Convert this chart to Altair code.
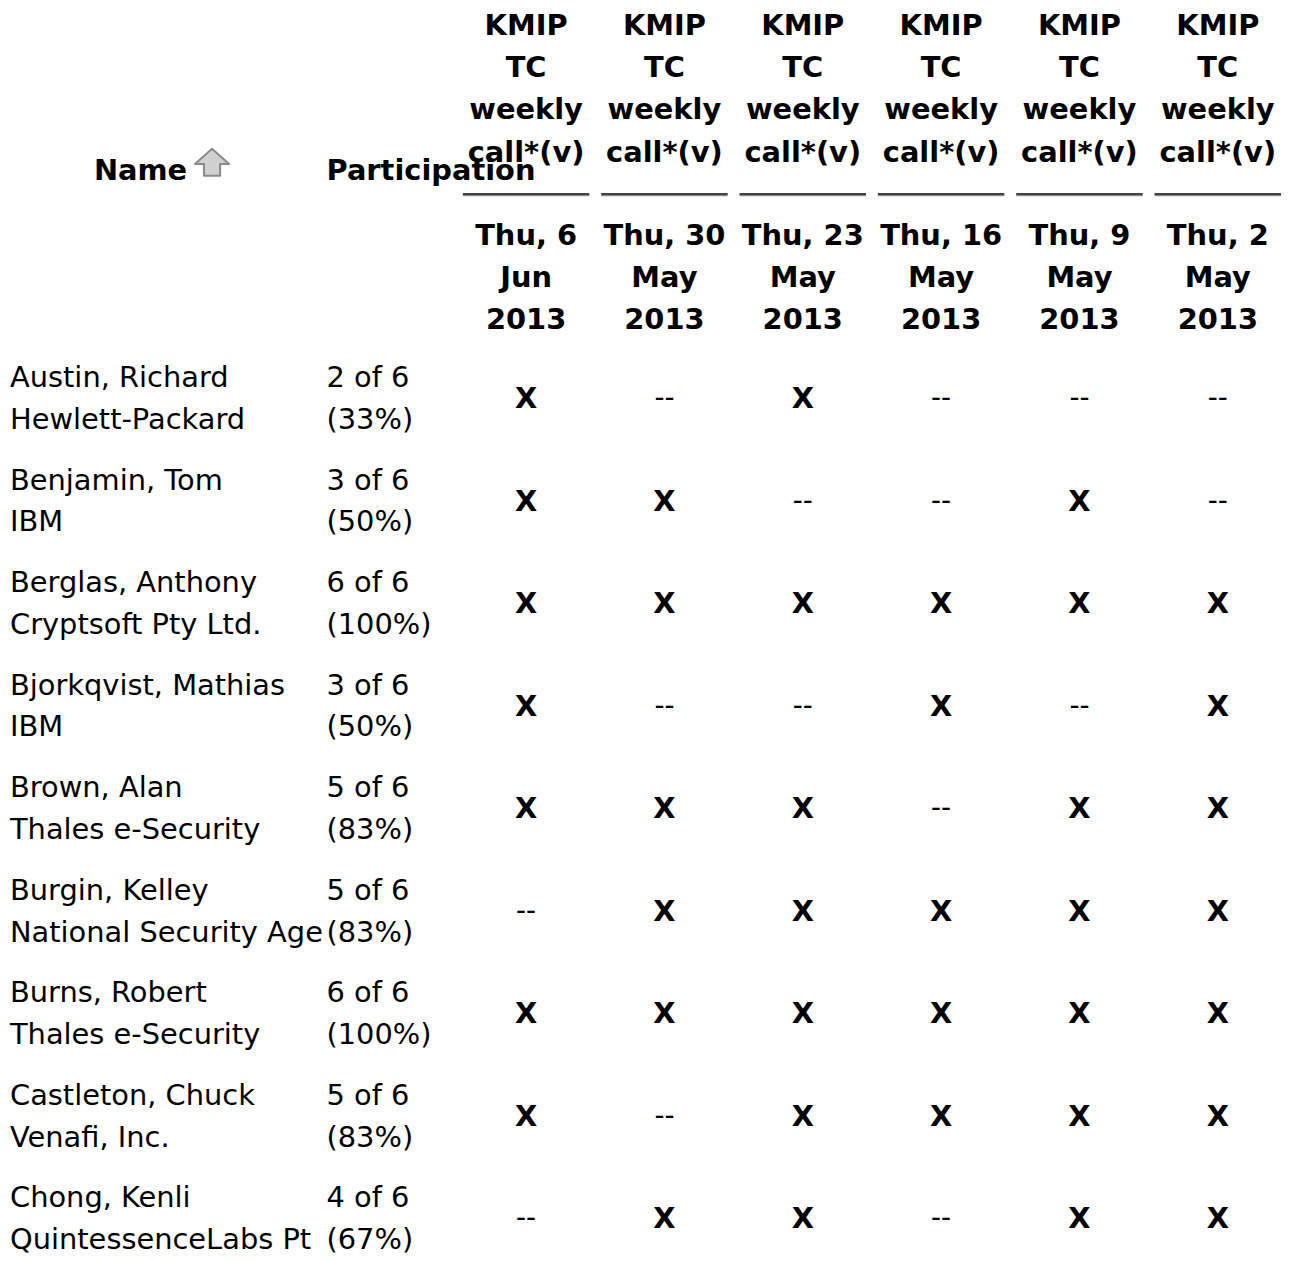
import altair as alt
import pandas as pd

# ---- data ----
meetings = ["Thu, 6\nJun\n2013", "Thu, 30\nMay\n2013", "Thu, 23\nMay\n2013",
            "Thu, 16\nMay\n2013", "Thu, 9\nMay\n2013", "Thu, 2\nMay\n2013"]
meeting_title = "KMIP TC weekly call*(v)"
names = ["Austin, Richard", "Benjamin, Tom", "Berglas, Anthony", "Bjorkqvist, Mathias",
         "Brown, Alan", "Burgin, Kelley", "Burns, Robert", "Castleton, Chuck", "Chong, Kenli"]
orgs = ["Hewlett-Packard", "IBM", "Cryptsoft Pty Ltd.", "IBM", "Thales e-Security",
        "National Security Agency", "Thales e-Security", "Venafi, Inc.", "QuintessenceLabs Pty Ltd."]
attended = [
    [1, 0, 1, 0, 0, 0],
    [1, 1, 0, 0, 1, 0],
    [1, 1, 1, 1, 1, 1],
    [1, 0, 0, 1, 0, 1],
    [1, 1, 1, 0, 1, 1],
    [0, 1, 1, 1, 1, 1],
    [1, 1, 1, 1, 1, 1],
    [1, 0, 1, 1, 1, 1],
    [0, 1, 1, 0, 1, 1],
]
participation = ["2 of 6\n(33%)", "3 of 6\n(50%)", "6 of 6\n(100%)", "3 of 6\n(50%)",
                 "5 of 6\n(83%)", "5 of 6\n(83%)", "6 of 6\n(100%)", "5 of 6\n(83%)",
                 "4 of 6\n(67%)"]

# ---- tables ----
cells = pd.DataFrame([
    {"name": n, "meeting": m, "mark": "X" if attended[i][j] else "--"}
    for i, n in enumerate(names) for j, m in enumerate(meetings)
])
people = pd.DataFrame({
    "name": names,
    "label": [f"{n}\n{o}" for n, o in zip(names, orgs)],
    "part": participation,
})
heads = pd.DataFrame({"meeting": meetings, "title": [meeting_title] * len(meetings)})
one = pd.DataFrame({"k": [0]})

FONT = "DejaVu Sans"
FS = 29
W, H = 1282, 1245

xs = alt.Scale(domain=meetings, range=[457, 1279], paddingInner=0.086, paddingOuter=0)
ys = alt.Scale(type="point", domain=names, range=[369, 1193], padding=0)
X = alt.X("meeting:N", scale=xs, axis=None)
Y = alt.Y("name:N", scale=ys, axis=None)

base_txt = dict(font=FONT, fontSize=FS, color="#000")

x_marks = alt.Chart(cells).transform_filter(alt.datum.mark == "X").mark_text(
    fontWeight="bold", baseline="middle", align="center", dy=21, **base_txt
).encode(x=X, y=Y, text="mark:N")

dash_marks = alt.Chart(cells).transform_filter(alt.datum.mark == "--").mark_text(
    baseline="middle", align="center", font=FONT, fontSize=28, color="#000", dy=21
).encode(x=X, y=Y, text="mark:N")

name_txt = alt.Chart(people).mark_text(
    align="left", baseline="middle", lineBreak="\n", lineHeight=42,
    limit=316, ellipsis="\u200b", **base_txt
).encode(x=alt.value(2), y=Y, text="label:N")

part_txt = alt.Chart(people).mark_text(
    align="left", baseline="middle", lineBreak="\n", lineHeight=42, **base_txt
).encode(x=alt.value(320), y=Y, text="part:N")

head_title = alt.Chart(heads).mark_text(
    fontWeight="bold", align="center", baseline="middle", lineBreak=" ", lineHeight=42.5, **base_txt
).encode(x=X, y=alt.value(15), text="title:N")

head_date = alt.Chart(heads).mark_text(
    fontWeight="bold", align="center", baseline="middle", lineBreak="\n", lineHeight=42.5, **base_txt
).encode(x=X, y=alt.value(226), text="meeting:N")

underline_shadow = alt.Chart(heads).mark_rect(color="#cfcfcf").encode(
    x=X, y=alt.value(184), y2=alt.value(186.5)
)
underline = alt.Chart(heads).mark_rect(color="#444").encode(
    x=X, y=alt.value(183), y2=alt.value(185.5)
)

name_head = alt.Chart(one).mark_text(
    text="Name", fontWeight="bold", align="right", baseline="middle", **base_txt
).encode(x=alt.value(180), y=alt.value(161))

part_head = alt.Chart(one).mark_text(
    text="Participation", fontWeight="bold", align="left", baseline="middle", **base_txt
).encode(x=alt.value(320), y=alt.value(161))

arrow_path = "M0,-0.8 L0.95,0.05 L0.45,0.05 L0.45,0.7 L-0.45,0.7 L-0.45,0.05 L-0.95,0.05 Z"
arrow = alt.Chart(one).mark_point(
    shape=arrow_path, filled=True, fill="#d0d0d0", stroke="#8a8a8a", strokeWidth=2,
    strokeJoin="round", size=1300, opacity=1
).encode(x=alt.value(205), y=alt.value(153))

chart = alt.layer(
    underline_shadow, underline, head_title, head_date, name_head, part_head, arrow,
    name_txt, part_txt, x_marks, dash_marks
).properties(
    width=W, height=H, autosize=alt.AutoSizeParams(type="none"), padding=0
).configure_view(stroke=None)

chart.save("out.html", embed_options={"renderer": "svg", "actions": False})
